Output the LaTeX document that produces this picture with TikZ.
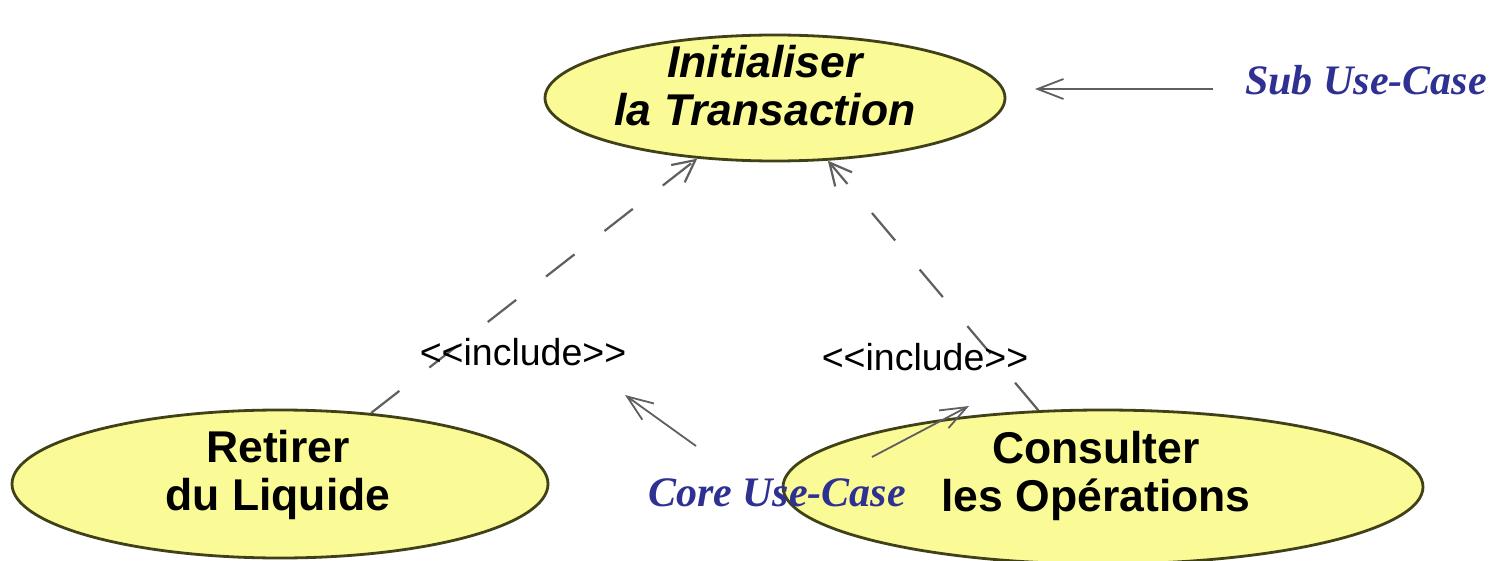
\documentclass[tikz,border=0pt]{standalone}
\usepackage{fontspec}
\setmainfont{Liberation Serif}
\newfontfamily\ucfont{Liberation Sans}
\usetikzlibrary{shapes.geometric,arrows.meta}
\definecolor{ucfill}{RGB}{250,250,150}
\definecolor{ucdraw}{RGB}{65,65,25}
\definecolor{annblue}{RGB}{46,49,146}
\definecolor{linegray}{RGB}{95,95,95}
\begin{document}
\begin{tikzpicture}[x=1pt,y=-1pt,
  uc/.style={ellipse,draw=ucdraw,fill=ucfill,line width=2.8pt,inner sep=0pt},
  uctext/.style={font=\ucfont\bfseries\fontsize{44.5}{48}\selectfont,align=center,inner sep=0pt},
  inctext/.style={font=\ucfont\fontsize{37.5}{40}\selectfont,inner sep=0pt},
  inc/.style={draw=linegray,line width=2.2pt,dash pattern=on 36pt off 38pt,
    -{Straight Barb[length=22pt,width=22pt,line width=2.2pt]}},
  anntext/.style={font=\bfseries\itshape\fontsize{42}{48}\selectfont,text=annblue,inner sep=0pt},
  ann/.style={draw=linegray,line width=1.8pt,-{Straight Barb[length=26pt,width=20pt,line width=1.8pt]}}
]
\useasboundingbox (0,0) rectangle (1493,561);
% use cases
\node[uc,minimum width=460pt,minimum height=126pt] (init) at (775,98) {};
\node[uc,minimum width=536pt,minimum height=148pt] (retirer) at (280,484) {};
\node[uc,minimum width=640pt,minimum height=154pt] (consulter) at (1103,487) {};
\node[uctext,font=\ucfont\bfseries\itshape\fontsize{44.5}{48}\selectfont] (initT) at (765,86) {Initialiser\\la Transaction};
\node[uctext] (retirerT) at (278,475) {Retirer\\du Liquide};
\node[uctext] (consulterT) at (1096,476) {Consulter\\les Opérations};
% include relations
\draw[inc] (retirer) -- (init);
\draw[inc] (consulter) -- (init);
\node[inctext] (incL) at (523,352) {<\kern0pt<include>\kern0pt>};
\node[inctext] (incR) at (925,357) {<\kern0pt<include>\kern0pt>};
% annotations
\node[anntext] (sub) at (1366,80) {Sub Use-Case};
\node[anntext] (core) at (777,493) {Core Use-Case};
\coordinate (subtail) at (1213,89);
\coordinate (subtip) at (1035,89);
\coordinate (coretailL) at (696,446);
\coordinate (coretipL) at (625,395);
\coordinate (coretailR) at (872,457);
\coordinate (coretipR) at (969,406);
\draw[ann] (subtail) -- (subtip);
\draw[ann] (coretailL) -- (coretipL);
\draw[ann] (coretailR) -- (coretipR);
\end{tikzpicture}
\end{document}
